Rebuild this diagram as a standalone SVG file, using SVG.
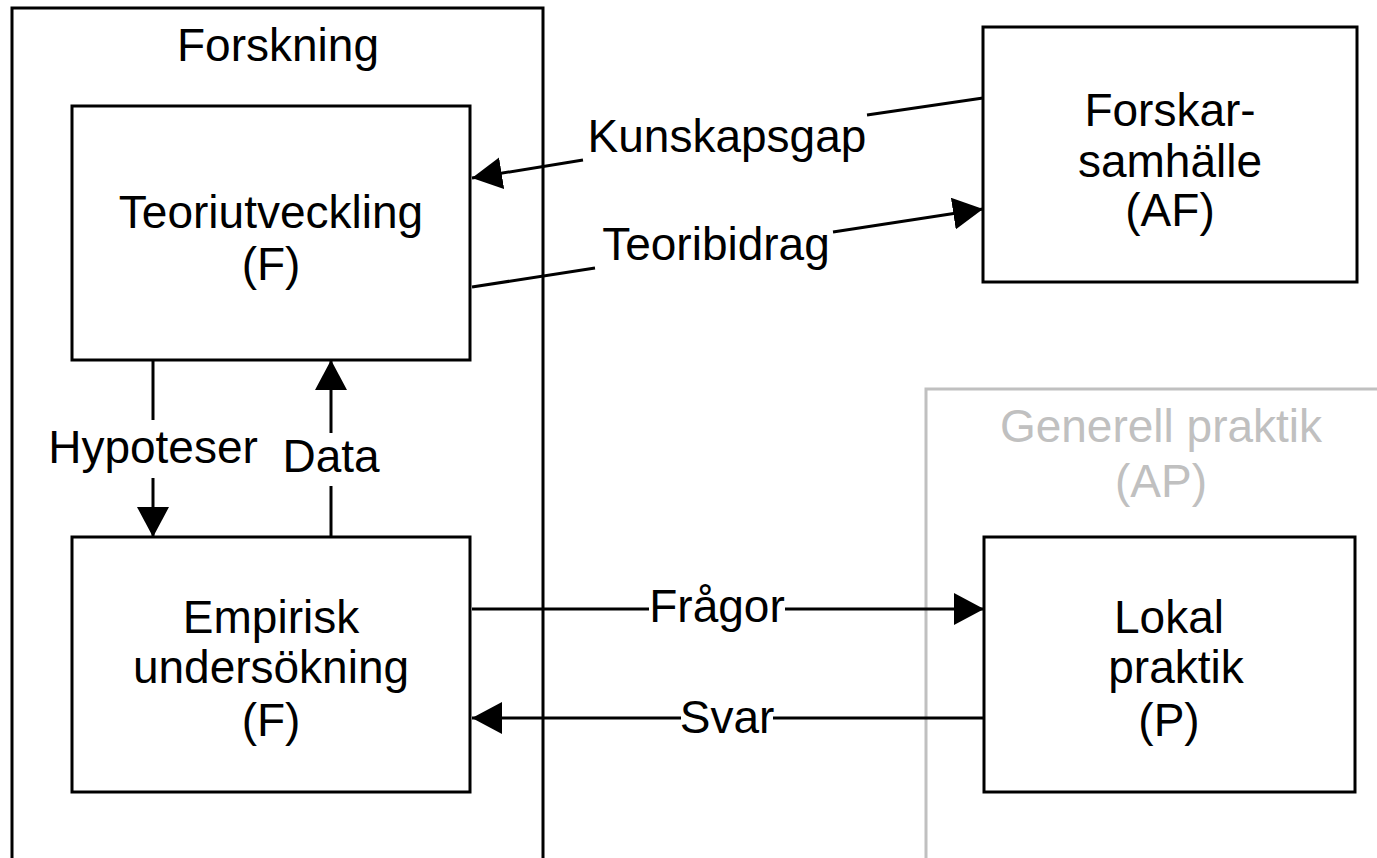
<svg xmlns="http://www.w3.org/2000/svg" width="1377" height="858" viewBox="0 0 1377 858">
<style>
.box{fill:#fff;stroke:#000;stroke-width:3}
.grp{fill:none;stroke:#000;stroke-width:3}
.gray{fill:none;stroke:#c0c0c0;stroke-width:3}
.t{font-family:"Liberation Sans",Arial,sans-serif;font-size:46px;fill:#000;text-anchor:middle}
.tg{fill:#c0c0c0}
.c{fill:none;stroke:#000;stroke-width:3}
.lbl{font-family:"Liberation Sans",Arial,sans-serif;font-size:46px;fill:#000;text-anchor:middle}
</style>
<defs>
<marker id="arr" viewBox="0 0 30 32" refX="30" refY="16" markerWidth="30" markerHeight="32" markerUnits="userSpaceOnUse" orient="auto">
<path d="M0,0 L30,16 L0,32 z" fill="#000"/>
</marker>
</defs>
<rect width="1377" height="858" fill="#fff"/>
<g id="forskning">
<path class="grp" d="M12,860 V8 H543 V860"/>
<text class="t" x="278" y="61">Forskning</text>
</g>
<g id="generell">
<path class="gray" d="M926,860 V389 H1380"/>
<text class="t tg" x="1161" y="442">Generell praktik</text>
<text class="t tg" x="1161" y="497">(AP)</text>
</g>
<g id="teori">
<rect class="box" x="72" y="106" width="398" height="254"/>
<text class="t" x="271" y="228">Teoriutveckling</text>
<text class="t" x="271" y="280">(F)</text>
</g>
<g id="empirisk">
<rect class="box" x="72" y="537" width="398" height="255"/>
<text class="t" x="271" y="633">Empirisk</text>
<text class="t" x="271" y="683">undersökning</text>
<text class="t" x="271" y="736">(F)</text>
</g>
<g id="forskar">
<rect class="box" x="983" y="27" width="374" height="255"/>
<text class="t" x="1170" y="126">Forskar-</text>
<text class="t" x="1170" y="177">samhälle</text>
<text class="t" x="1170" y="226">(AF)</text>
</g>
<g id="lokal">
<rect class="box" x="984" y="537" width="371" height="255"/>
<text class="t" x="1169" y="633">Lokal</text>
<text class="t" x="1176" y="683">praktik</text>
<text class="t" x="1169" y="736">(P)</text>
</g>
<g id="connectors">
<path class="c" d="M983,98 L867,115"/>
<path class="c" d="M583,160 L472,178" marker-end="url(#arr)"/>
<text class="lbl" x="727" y="152">Kunskapsgap</text>
<path class="c" d="M472,287 L595,268"/>
<path class="c" d="M833,232 L983,209" marker-end="url(#arr)"/>
<text class="lbl" x="716" y="260">Teoribidrag</text>
<path class="c" d="M153,360 V420"/>
<path class="c" d="M153,478 V537" marker-end="url(#arr)"/>
<text class="lbl" x="153" y="463">Hypoteser</text>
<path class="c" d="M331,537 V486"/>
<path class="c" d="M331,433 V360" marker-end="url(#arr)"/>
<text class="lbl" x="331" y="472">Data</text>
<path class="c" d="M472,609 H649"/>
<path class="c" d="M785,609 H984" marker-end="url(#arr)"/>
<text class="lbl" x="717" y="622">Frågor</text>
<path class="c" d="M984,718 H773"/>
<path class="c" d="M681,718 H472" marker-end="url(#arr)"/>
<text class="lbl" x="727" y="733">Svar</text>
</g>
</svg>
